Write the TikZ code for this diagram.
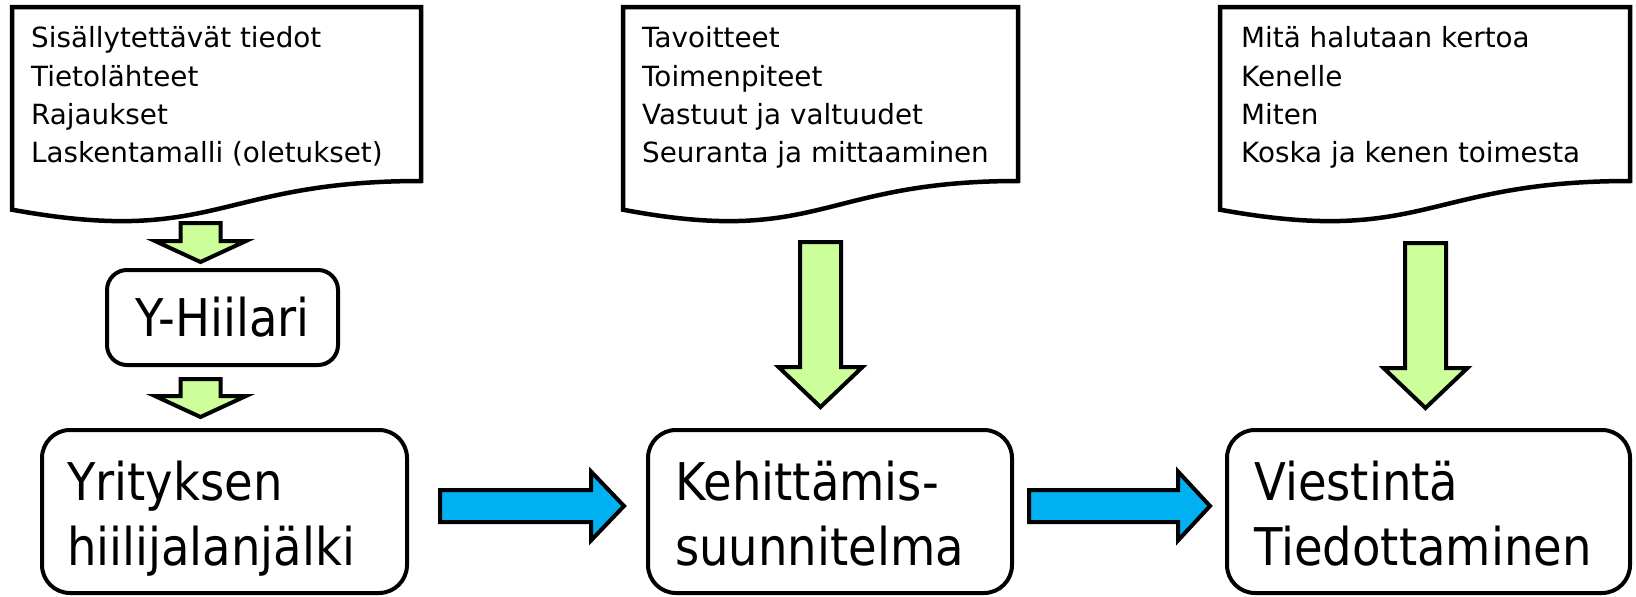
\documentclass[tikz,border=0pt]{standalone}
\usepackage{fontspec}
\usetikzlibrary{calc}
\newfontfamily\smallfont{DejaVu Sans}
\newfontfamily\bigfont[FakeStretch=0.895]{DejaVu Sans}
\definecolor{arrowgreen}{HTML}{CCFF99}
\definecolor{arrowblue}{HTML}{00B0F0}
\tikzset{
  docshape/.style={draw=black, line width=4.5pt, fill=white},
  doctext/.style={anchor=north west, inner sep=0pt, align=left,
    font={\smallfont\fontsize{27.8}{38.3}\selectfont}},
  roundbox/.style={draw=black, line width=4pt, rounded corners=28pt, inner sep=0pt, fill=white},
  bigtext/.style={anchor=north west, inner sep=0pt, align=left,
    font={\bigfont\fontsize{52}{65}\selectfont}},
  greenblock/.style={draw=black, line width=4pt, fill=arrowgreen},
  blueblock/.style={draw=black, line width=4pt, fill=arrowblue},
}
% document shape: #1 left x, #2 right x
\newcommand\docpath[2]{%
  \path[docshape] (#1,7) -- (#2,7) -- (#2,181)
    .. controls ({(#1+#2)/2},181) and ({(#1+#2)/2},247) .. (#1,209.7) -- cycle;}
% vertical block arrow: start, tip, half shaft, half head, head length (pt)
\newcommand\vblock[5]{%
  \path[greenblock] let \p1=(#1), \p2=(#2) in
    (\x1-#3pt,\y1) -- (\x1+#3pt,\y1) -- (\x1+#3pt,\y2+#5pt) -- (\x1+#4pt,\y2+#5pt)
    -- (\x1,\y2) -- (\x1-#4pt,\y2+#5pt) -- (\x1-#3pt,\y2+#5pt) -- cycle;}
% horizontal block arrow
\newcommand\hblock[5]{%
  \path[blueblock] let \p1=(#1), \p2=(#2) in
    (\x1,\y1+#3pt) -- (\x2-#5pt,\y1+#3pt) -- (\x2-#5pt,\y1+#4pt) -- (\x2,\y1)
    -- (\x2-#5pt,\y1-#4pt) -- (\x2-#5pt,\y1-#3pt) -- (\x1,\y1-#3pt) -- cycle;}
\begin{document}
\begin{tikzpicture}[x=1pt,y=-1pt]
\useasboundingbox (0,0) rectangle (1636,597);
\fill[white] (0,0) rectangle (1636,597);

% documents
\docpath{12}{421}
\docpath{623}{1018}
\docpath{1220}{1630}
\node[doctext] (t1) at (31,20.7) {\strut Sisällytettävät tiedot\\Tietolähteet\\Rajaukset\\Laskentamalli (oletukset)};
\node[doctext] (t2) at (642,20.7) {\strut Tavoitteet\\Toimenpiteet\\Vastuut ja valtuudet\\Seuranta ja mittaaminen};
\node[doctext] (t3) at (1241,20.7) {\strut Mitä halutaan kertoa\\Kenelle\\Miten\\Koska ja kenen toimesta};

% boxes
\node[roundbox, rounded corners=20pt, minimum width=231pt, minimum height=95pt,
  font={\bigfont\fontsize{52}{65}\selectfont}] (yh) at (222.5,317.5) {Y-Hiilari};
\node[roundbox, minimum width=365pt, minimum height=163pt] (boxA) at (224.5,511.5) {};
\node[roundbox, minimum width=364pt, minimum height=163pt] (boxB) at (830,511.5) {};
\node[roundbox, minimum width=403pt, minimum height=163pt] (boxC) at (1428.5,511.5) {};
\node[bigtext] (tA) at ($(boxA.north west)+(27,26.5)$) {\strut Yrityksen\\hiilijalanjälki};
\node[bigtext] (tB) at ($(boxB.north west)+(29,26.5)$) {\strut Kehittämis-\\suunnitelma};
\node[bigtext] (tC) at ($(boxC.north west)+(29,26.5)$) {\strut Viestintä\\Tiedottaminen};

% green arrows
\coordinate (g1s) at (200.5,223);
\coordinate (g1t) at ($(g1s |- yh.north)+(0,-6)$);
\coordinate (g2s) at ($(g1s |- yh.south)+(0,12)$);
\coordinate (g2t) at ($(g1s |- boxA.north)+(0,-11)$);
\coordinate (g3s) at (820.5,242);
\coordinate (g3t) at ($(g3s |- boxB.north)+(0,-21)$);
\coordinate (g4s) at (1425.5,243);
\coordinate (g4t) at ($(g4s |- boxC.north)+(0,-20)$);
\vblock{g1s}{g1t}{20}{45.5}{21}
\vblock{g2s}{g2t}{20}{45.5}{21}
\vblock{g3s}{g3t}{20.5}{42}{40}
\vblock{g4s}{g4t}{20.5}{42}{40}

% blue arrows
\coordinate (b1s) at ($(boxA.east)+(31,-5.5)$);
\coordinate (b1t) at ($(boxB.west)+(-22,-5.5)$);
\coordinate (b2s) at ($(boxB.east)+(15,-5.5)$);
\coordinate (b2t) at ($(boxC.west)+(-15,-5.5)$);
\hblock{b1s}{b1t}{16}{34.5}{33}
\hblock{b2s}{b2t}{16}{34.5}{32}
\end{tikzpicture}
\end{document}
